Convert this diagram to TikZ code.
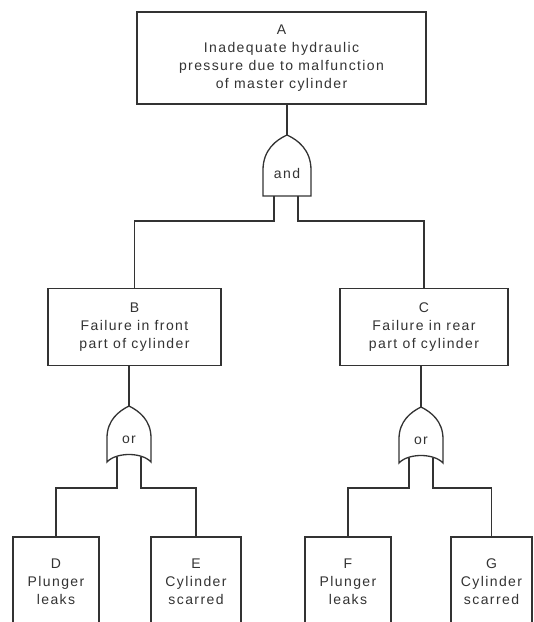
\documentclass[tikz,border=0pt]{standalone}
\usepackage{fontspec}
\newfontfamily\lblfont[LetterSpace=10]{Liberation Sans}
\definecolor{ink}{gray}{0.2}
\tikzset{
  wire/.style={draw=ink, line width=1.3pt},
  box/.style={draw=ink, line width=1.3pt, inner sep=0pt, align=center, text=ink,
    font=\lblfont\fontsize{14}{18}\selectfont},
  gatelbl/.style={text=ink, font=\lblfont\fontsize{14}{18}\selectfont},
  andgate/.pic={
    \draw[wire, fill=white] (-24,61) -- (-24,35) .. controls (-24,15) and (-11,5) .. (0,0)
      .. controls (11,5) and (24,15) .. (24,35) -- (24,61) -- cycle;
    \node[gatelbl] at (0,38) {and};
    \coordinate (-top) at (0,0);
    \coordinate (-l) at (-13,61);
    \coordinate (-r) at (11,61);
  },
  orgate/.pic={
    \draw[wire, fill=white] (-22,56) -- (-22,32) .. controls (-22,14) and (-10,5) .. (0,0)
      .. controls (10,5) and (22,14) .. (22,32) -- (22,56)
      .. controls (13,46) and (-13,46) .. (-22,56) -- cycle;
    \node[gatelbl] at (0,34) {or};
    \coordinate (-top) at (0,0);
    \coordinate (-l) at (-12,51);
    \coordinate (-r) at (12,51);
  }
}
\begin{document}
\begin{tikzpicture}[x=1pt, y=-1pt]
\useasboundingbox (0,0) rectangle (534,622);
\clip (0,0) rectangle (534,622);
\fill[white] (0,0) rectangle (534,622);

\node[box, minimum width=289pt, minimum height=92pt] (A) at (281.5,58)
  {A\\Inadequate hydraulic\\pressure due to malfunction\\of master cylinder};
\node[box, minimum width=173pt, minimum height=77pt] (B) at (134.5,327)
  {B\\Failure in front\\part of cylinder};
\node[box, minimum width=168pt, minimum height=77pt] (C) at (424,327)
  {C\\Failure in rear\\part of cylinder};
\node[box, minimum width=86pt, minimum height=90pt] (D) at (56,582)
  {D\\Plunger\\leaks};
\node[box, minimum width=90pt, minimum height=90pt] (E) at (196,582)
  {E\\Cylinder\\scarred};
\node[box, minimum width=86pt, minimum height=90pt] (F) at (348,582)
  {F\\Plunger\\leaks};
\node[box, minimum width=81pt, minimum height=90pt] (G) at (491.5,582)
  {G\\Cylinder\\scarred};

\pic (and) at (287,135) {andgate};
\pic (orB) at (129,406) {orgate};
\pic (orC) at (421,407) {orgate};

\draw[wire] (A.south -| and-top) -- (and-top);
\draw[wire] (and-l) -- ++(0,25) -| (B.north);
\draw[wire] (and-r) -- ++(0,25) -| (C.north);

\draw[wire] (B.south -| orB-top) -- (orB-top);
\draw[wire] (orB-l) -- ++(0,31) -| (D.north);
\draw[wire] (orB-r) -- ++(0,31) -| (E.north);

\draw[wire] (C.south -| orC-top) -- (orC-top);
\draw[wire] (orC-l) -- ++(0,30) -| (F.north);
\draw[wire] (orC-r) -- ++(0,30) -| (G.north);
\end{tikzpicture}
\end{document}
